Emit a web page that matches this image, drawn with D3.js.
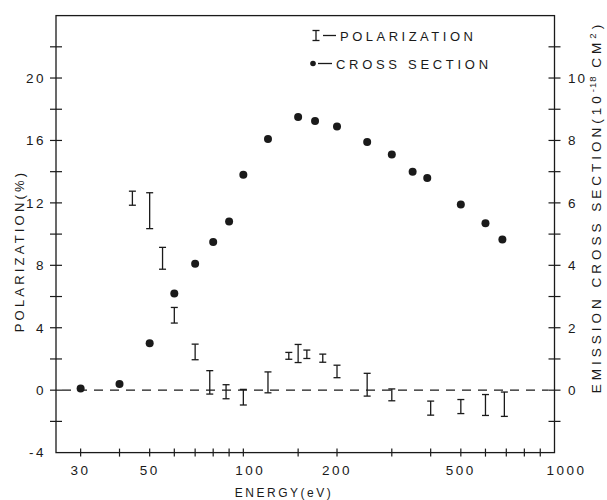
<!DOCTYPE html>
<html>
<head>
<meta charset="utf-8">
<script src="https://cdn.jsdelivr.net/npm/d3@7"></script>
<style>
  body { margin: 0; background: #fff; }
  svg { display: block; }
  text { font-family: "Liberation Sans", Arial, sans-serif; fill: #1a1a1a; }
</style>
</head>
<body>
<div id="chart"></div>
<script>
// --- data ---
const csEnergy = [30, 40, 50, 60, 70, 80, 90, 100, 120, 150, 170, 200, 250, 300, 350, 390, 500, 600, 680];
const csValue  = [0.05, 0.2, 1.5, 3.1, 4.05, 4.75, 5.4, 6.9, 8.05, 8.75, 8.62, 8.45, 7.95, 7.55, 7.0, 6.8, 5.95, 5.35, 4.83];

const polEnergy = [44, 50, 55, 60, 70, 78, 88, 100, 120, 140, 150, 160, 180, 200, 250, 300, 400, 500, 600, 690];
const polValue  = [12.3, 11.5, 8.45, 4.8, 2.45, 0.5, -0.1, -0.45, 0.5, 2.2, 2.35, 2.3, 2.05, 1.2, 0.35, -0.3, -1.15, -1.05, -0.95, -0.9];
const polError  = [0.45, 1.15, 0.7, 0.5, 0.5, 0.75, 0.45, 0.5, 0.67, 0.22, 0.58, 0.27, 0.26, 0.4, 0.73, 0.38, 0.45, 0.45, 0.67, 0.78];

const xTicks = [30, 40, 50, 60, 70, 80, 90, 100, 150, 200, 300, 400, 500, 600, 700, 800, 900];
const xLabels = [30, 50, 100, 200, 500, 1000];
const leftTicks = [-2, 0, 2, 4, 6, 8, 10, 12, 14, 16, 18, 20, 22];
const leftLabels = [-4, 0, 4, 8, 12, 16, 20];
const rightTicks = [-1, 0, 1, 2, 3, 4, 5, 6, 7, 8, 9, 10, 11];
const rightLabels = [0, 2, 4, 6, 8, 10];

const width = 607, height = 500;
const svg = d3.select("#chart").append("svg")
    .attr("width", width)
    .attr("height", height);

const x = d3.scaleLog().domain([25, 1000]).range([56, 554.5]);
const yL = d3.scaleLinear().domain([-4, 24]).range([452.6, 15.6]);
const yR = d3.scaleLinear().domain([-2, 12]).range([452.6, 15.6]);

const ink = "#1a1a1a";

// frame
svg.append("rect")
    .attr("x", x(25)).attr("y", yL(24))
    .attr("width", x(1000) - x(25)).attr("height", yL(-4) - yL(24))
    .attr("fill", "none").attr("stroke", ink).attr("stroke-width", 1.3);

// crossing tick marks
svg.selectAll(".xt").data(xTicks).enter().append("line")
    .attr("x1", d => x(d)).attr("x2", d => x(d))
    .attr("y1", yL(-4) - 4).attr("y2", yL(-4) + 4)
    .attr("stroke", ink).attr("stroke-width", 1.2);

svg.selectAll(".lt").data(leftTicks).enter().append("line")
    .attr("x1", x(25) - 6).attr("x2", x(25) + 6)
    .attr("y1", d => yL(d)).attr("y2", d => yL(d))
    .attr("stroke", ink).attr("stroke-width", 1.2);

svg.selectAll(".rt").data(rightTicks).enter().append("line")
    .attr("x1", x(1000) - 6).attr("x2", x(1000) + 6)
    .attr("y1", d => yR(d)).attr("y2", d => yR(d))
    .attr("stroke", ink).attr("stroke-width", 1.2);

// tick labels
const labelFont = "13.5px";
svg.selectAll(".xl").data(xLabels).enter().append("text")
    .attr("x", d => x(d) + (d === 100 ? 7 : d === 1000 ? 12 : 0))
    .attr("y", 475)
    .attr("text-anchor", "middle")
    .style("font-size", labelFont)
    .style("letter-spacing", "2.5px")
    .text(d => d);

svg.selectAll(".ll").data(leftLabels).enter().append("text")
    .attr("x", 46)
    .attr("y", d => yL(d))
    .attr("dy", "0.36em")
    .attr("text-anchor", "end")
    .style("font-size", labelFont)
    .style("letter-spacing", "2.5px")
    .text(d => d);

svg.selectAll(".rl").data(rightLabels).enter().append("text")
    .attr("x", 568)
    .attr("y", d => yR(d))
    .attr("dy", "0.36em")
    .attr("text-anchor", "start")
    .style("font-size", labelFont)
    .style("letter-spacing", "2px")
    .text(d => d);

// axis titles
svg.append("text")
    .attr("x", 284).attr("y", 497)
    .attr("text-anchor", "middle")
    .style("font-size", "12px")
    .style("letter-spacing", "2.5px")
    .text("ENERGY(eV)");

svg.append("text")
    .attr("transform", "translate(24,251) rotate(-90)")
    .attr("text-anchor", "middle")
    .style("font-size", "13px")
    .style("letter-spacing", "3.2px")
    .text("POLARIZATION(%)");

const rt = svg.append("text")
    .attr("transform", "translate(601,207) rotate(-90)")
    .attr("text-anchor", "middle")
    .style("font-size", "13.5px")
    .style("letter-spacing", "4px");
rt.append("tspan").text("EMISSION  CROSS  SECTION(10");
rt.append("tspan").attr("dy", -5).style("font-size", "9.5px").style("letter-spacing", "1px").text("-18");
rt.append("tspan").attr("dy", 5).text(" CM");
rt.append("tspan").attr("dy", -5).style("font-size", "9.5px").text("2");
rt.append("tspan").attr("dy", 5).text(")");

// zero line
svg.append("line")
    .attr("x1", x(25) + 6).attr("x2", x(1000) - 6)
    .attr("y1", yL(0)).attr("y2", yL(0))
    .attr("stroke", ink).attr("stroke-width", 1.2)
    .attr("stroke-dasharray", "9,7");

// polarization error bars
const cap = 3.5;
const bars = svg.append("g").attr("stroke", ink).attr("stroke-width", 1.3);
polEnergy.forEach((e, i) => {
    const top = yL(polValue[i] + polError[i]);
    const bot = yL(polValue[i] - polError[i]);
    const cx = x(e);
    bars.append("line").attr("x1", cx).attr("x2", cx).attr("y1", top).attr("y2", bot);
    bars.append("line").attr("x1", cx - cap).attr("x2", cx + cap).attr("y1", top).attr("y2", top);
    bars.append("line").attr("x1", cx - cap).attr("x2", cx + cap).attr("y1", bot).attr("y2", bot);
});

// cross section points
svg.selectAll(".cs").data(csEnergy).enter().append("circle")
    .attr("cx", d => x(d))
    .attr("cy", (d, i) => yR(csValue[i]))
    .attr("r", 4)
    .attr("fill", ink);

// legend
const lg = svg.append("g");
lg.append("line").attr("x1", 316).attr("x2", 316).attr("y1", 30.5).attr("y2", 40.5).attr("stroke", ink).attr("stroke-width", 1.3);
lg.append("line").attr("x1", 312.5).attr("x2", 319.5).attr("y1", 30.5).attr("y2", 30.5).attr("stroke", ink).attr("stroke-width", 1.3);
lg.append("line").attr("x1", 312.5).attr("x2", 319.5).attr("y1", 40.5).attr("y2", 40.5).attr("stroke", ink).attr("stroke-width", 1.3);
lg.append("line").attr("x1", 323).attr("x2", 336).attr("y1", 35.5).attr("y2", 35.5).attr("stroke", ink).attr("stroke-width", 1.3);
lg.append("text").attr("x", 340).attr("y", 40.5).style("font-size", "13px").style("letter-spacing", "3.5px").text("POLARIZATION");

lg.append("circle").attr("cx", 313).attr("cy", 63.5).attr("r", 2.8).attr("fill", ink);
lg.append("line").attr("x1", 318).attr("x2", 332).attr("y1", 63.5).attr("y2", 63.5).attr("stroke", ink).attr("stroke-width", 1.3);
lg.append("text").attr("x", 336).attr("y", 68.5).style("font-size", "13px").style("letter-spacing", "3.7px").text("CROSS  SECTION");
</script>
</body>
</html>
